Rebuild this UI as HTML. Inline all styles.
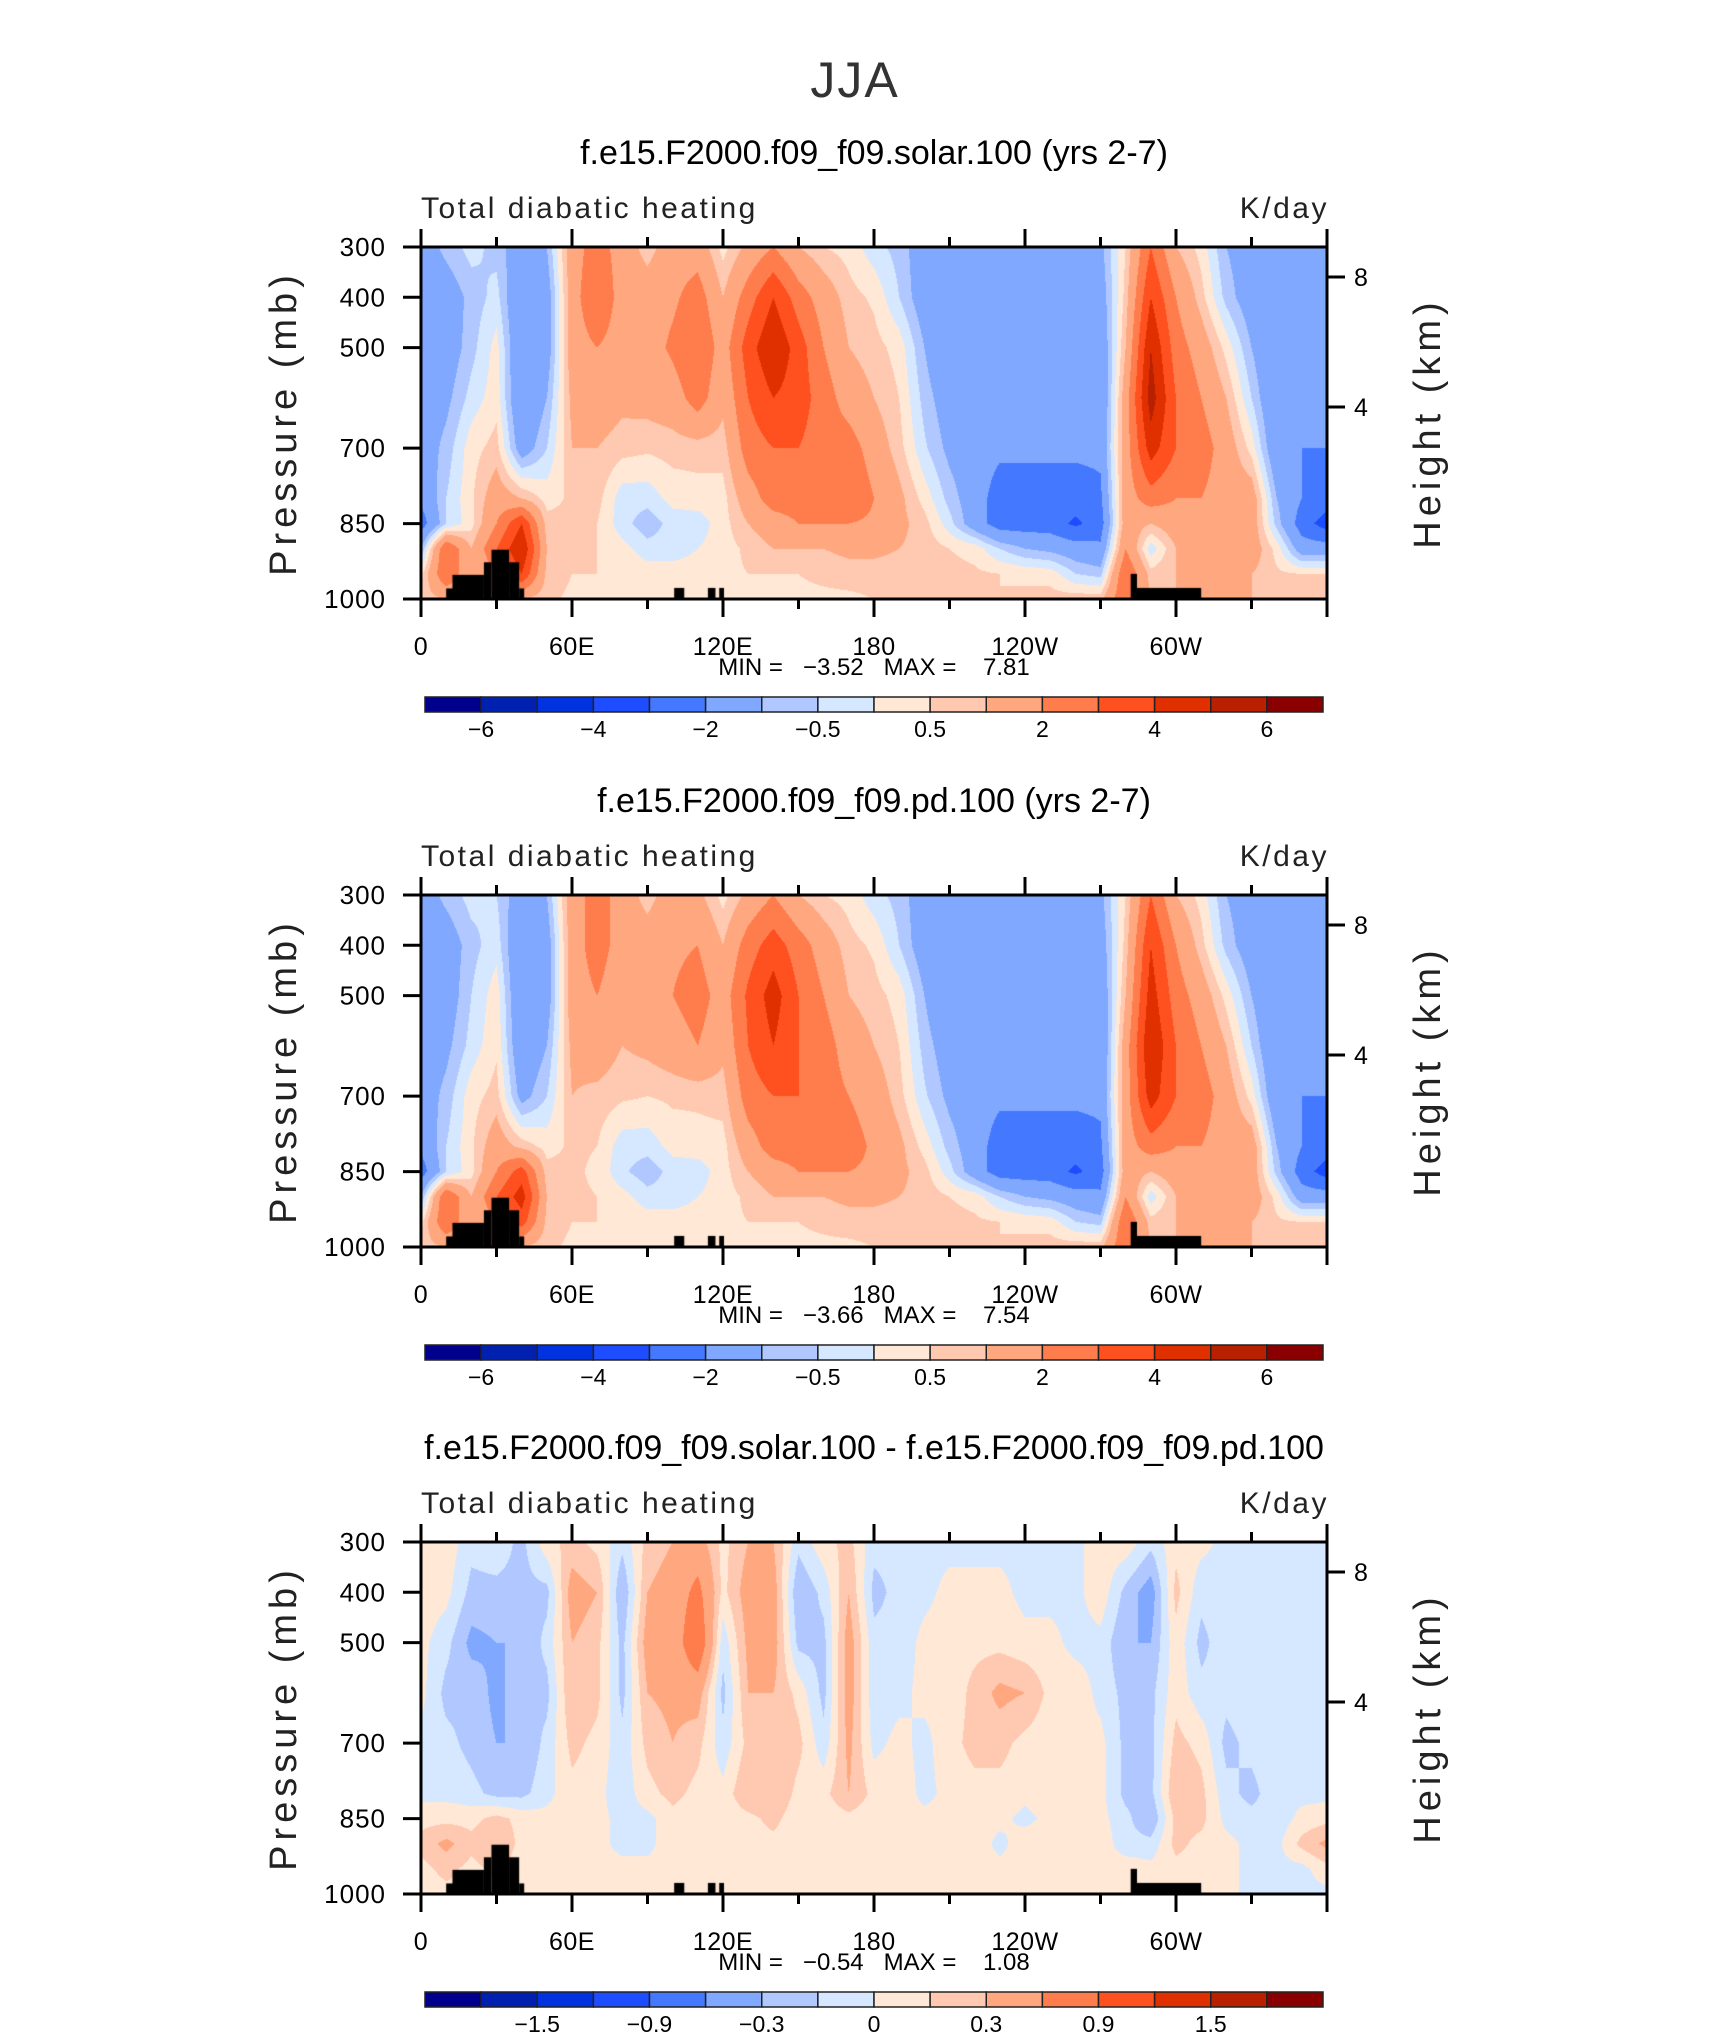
<!DOCTYPE html>
<html><head><meta charset="utf-8">
<style>
html,body{margin:0;padding:0;background:#fff;}
#root{position:relative;width:1710px;height:2038px;overflow:hidden;background:#fff;font-family:"Liberation Sans",sans-serif;}
canvas{position:absolute;}
svg{position:absolute;left:0;top:0;}
</style></head>
<body>
<div id="root">
<canvas id="c0" width="906" height="352" style="left:421px;top:247px"></canvas>
<canvas id="c1" width="906" height="352" style="left:421px;top:895px"></canvas>
<canvas id="c2" width="906" height="352" style="left:421px;top:1542px"></canvas>
<svg id="ov" width="1710" height="2038"></svg>
</div>
<script>
const lons=[0,10,20,30,40,50,60,70,80,90,100,110,120,130,140,150,160,170,180,190,200,210,220,230,240,250,260,270,280,290,300,310,320,330,340,350,360];
const pressures=[300,400,500,600,700,800,850,900,950,1000];
const solarField=[
[-1.5,-1.5,-1.5,-1.5,-1.5,-1.8,-2.5,-1,0.3,0.7],
[-0.8,-1.5,-1.5,-1.2,-0.8,-0.5,-0.5,3,3,1],
[-0.3,-0.8,-0.7,-0.3,0.3,0.4,0.3,1,1,0.8],
[-0.7,-0.3,0.2,0.3,0.7,1.5,2,3,2,1],
[-1.5,-2,-2,-2,-1.5,1,4,5,4,1],
[-1,-1.5,-1.5,-1,-0.5,0.3,0.7,1,0.8,0.6],
[1.5,1.5,1.5,1.2,1,0.6,0.6,0.6,0.5,0.4],
[2.5,3,2,1.5,1,0.7,0.5,0.5,0.5,0.4],
[1.5,1.5,1.5,1.2,0.7,-0.3,-0.3,0.2,0.4,0.4],
[0.7,1.5,1.5,1.3,0.6,-0.3,-0.8,-0.3,0.3,0.4],
[1.5,1.8,2.2,1.5,0.7,0.2,-0.3,-0.3,0.3,0.4],
[1.5,2.5,3,2.5,0.7,0.3,-0.3,0,0.3,0.4],
[0.3,1,1.5,1.2,0.7,0.3,0.3,0.3,0.4,0.4],
[1.2,2.5,3.5,3,2.5,1.5,1,0.6,0.5,0.4],
[2,4,5,4,3,2.5,1.5,1,0.5,0.4],
[1,2.5,3.5,3.5,3,2.5,2,1,0.5,0.4],
[0.5,1.5,2,2.5,2.5,2.5,2,1,0.6,0.4],
[0.3,0.7,1,1.5,2.5,3,2,1.2,0.7,0.4],
[-0.3,0.4,0.7,1,1.5,2,1.8,1.2,0.7,0.5],
[-0.7,-0.5,0.3,0.5,0.7,1.2,1.2,1,0.7,0.5],
[-1.5,-1.5,-1,-0.7,-0.4,0.3,0.7,0.8,0.7,0.5],
[-1.5,-2,-2,-1.5,-1.2,-0.7,-0.3,0.5,0.7,0.5],
[-1.2,-2,-2,-2,-1.5,-1.5,-1.5,0.3,0.6,0.5],
[-1.5,-2,-2,-2,-1.8,-2.5,-2.5,-0.5,0.5,0.5],
[-1.5,-2,-2,-2,-1.8,-2.5,-2.5,-1,0.4,0.6],
[-1.5,-1.5,-2,-2,-1.8,-2.5,-2.5,-1.2,0.3,0.7],
[-1.2,-1.5,-1.8,-2,-1.8,-2.5,-3.2,-1.5,-0.5,0.8],
[-1.2,-1.5,-1.8,-2,-1.8,-2.2,-2.5,-1.8,-0.7,0.8],
[0.5,0.7,1,1.5,1.5,1.5,1.5,2,3,3],
[3,4,5,5.5,4.5,2.5,1,-0.3,0.7,1],
[1,2,2.5,3,3,2,1.5,1,1,1],
[0.3,0.7,1.5,2,2.5,2,1.7,1.5,1,1],
[-1,-0.7,0.3,1,1.5,1.5,1.5,1.5,1,1],
[-1.5,-1.5,-1,-0.5,0.3,1.5,1.5,1.5,1,1],
[-1.5,-2,-2,-2,-1.8,-1,-0.7,0.3,0.6,0.8],
[-1.5,-2,-2,-2,-2,-2,-2.5,-1.5,0.5,0.8],
[-1.5,-2,-2,-2,-2,-2.5,-3.5,-1.5,0.5,0.8]];
const pdField=[
[-1.5,-1.5,-1.5,-1.5,-1.5,-1.8,-2.5,-1,0.3,0.7],
[-0.8,-1.5,-1.5,-1.2,-0.8,-0.5,-0.5,3,3,1],
[-0.3,-0.7,-0.5,-0.3,0.3,0.4,0.3,1,1,0.8],
[-0.5,-0.2,0.3,0.4,0.7,1.5,2,3,2,1],
[-1.5,-2,-2,-1.8,-1.3,0.8,3.5,4.5,3.5,1],
[-1,-1.5,-1.5,-1,-0.5,0.3,0.7,1,0.8,0.6],
[1.5,1.5,1.5,1.2,1,0.6,0.6,0.6,0.5,0.4],
[2.5,2.5,2,1.5,0.8,0.5,0.4,0.5,0.5,0.4],
[1.5,1.5,1.3,1,0.6,-0.3,-0.4,0.2,0.4,0.4],
[0.7,1.5,1.5,1.2,0.5,-0.3,-0.8,-0.3,0.3,0.4],
[1.5,1.8,2,1.5,0.6,0.2,-0.3,-0.3,0.3,0.4],
[1.2,2,2.5,2,0.6,0.3,-0.3,0,0.3,0.4],
[0.3,1,1.5,1.2,0.7,0.3,0.3,0.3,0.4,0.4],
[1.2,2.5,3.2,3,2.5,1.5,1,0.6,0.5,0.4],
[2,3.5,4.5,4,3,2.5,1.5,1,0.5,0.4],
[1,2.5,3,3,3,2.5,2,1,0.5,0.4],
[0.5,1.5,2,2.5,2.5,2.5,2,1,0.6,0.4],
[0.3,0.7,1,1.5,2,2.5,2,1.2,0.7,0.4],
[-0.3,0.4,0.7,1,1.5,1.8,1.8,1.2,0.7,0.5],
[-0.7,-0.5,0.3,0.5,0.7,1.2,1.2,1,0.7,0.5],
[-1.5,-1.5,-1,-0.7,-0.4,0.3,0.7,0.8,0.7,0.5],
[-1.5,-2,-2,-1.5,-1.2,-0.7,-0.3,0.5,0.7,0.5],
[-1.2,-2,-2,-2,-1.5,-1.5,-1.5,0.3,0.6,0.5],
[-1.5,-2,-2,-2,-1.8,-2.5,-2.5,-0.5,0.5,0.5],
[-1.5,-2,-2,-2,-1.8,-2.5,-2.5,-1,0.4,0.6],
[-1.5,-1.5,-2,-2,-1.8,-2.5,-2.5,-1.2,0.3,0.7],
[-1.2,-1.5,-1.8,-2,-1.8,-2.5,-3.2,-1.5,-0.5,0.8],
[-1.2,-1.5,-1.8,-2,-1.8,-2.2,-2.5,-1.8,-0.7,0.8],
[0.5,0.7,1,1.5,1.5,1.5,1.5,2,3,3],
[3,4,4.5,5,4.5,2.5,1,-0.3,0.7,1],
[1,2,2.5,3,3,2,1.5,1,1,1],
[0.3,0.7,1.5,2,2.5,2,1.7,1.5,1,1],
[-1,-0.7,0.3,1,1.5,1.5,1.5,1.5,1,1],
[-1.5,-1.5,-1,-0.5,0.3,1.5,1.5,1.5,1,1],
[-1.5,-2,-2,-2,-1.8,-1,-0.7,0.3,0.6,0.8],
[-1.5,-2,-2,-2,-2,-2,-2.5,-1.5,0.5,0.8],
[-1.5,-2,-2,-2,-2,-2.5,-3.5,-1.5,0.5,0.8]];
const diffField=[
[0.1,0.1,0.05,0.05,-0.05,-0.05,0.1,0.2,0.1,0.05],
[0.1,0.05,-0.1,-0.2,-0.1,-0.05,0.1,0.35,0.2,0.1],
[-0.1,-0.2,-0.35,-0.2,-0.2,-0.1,0.1,0.2,0.1,0.1],
[-0.05,-0.2,-0.3,-0.35,-0.3,-0.2,0.2,0.3,0.2,0.1],
[-0.2,-0.2,-0.3,-0.2,-0.3,-0.2,0.1,0.1,0.05,0.05],
[0.1,-0.2,-0.1,-0.2,-0.1,-0.05,0.05,0.05,0.05,0.05],
[0.2,0.4,0.3,0.3,0.2,0.1,0.1,0.05,0.05,0.05],
[0.1,0.3,0.2,0.2,0.1,0.05,0.05,0.05,0.05,0.05],
[-0.1,-0.3,-0.2,-0.2,-0.1,-0.1,-0.05,-0.05,0.05,0.05],
[0.2,0.3,0.4,0.3,0.2,0.1,-0.05,-0.05,0.05,0.05],
[0.3,0.4,0.4,0.35,0.3,0.2,0.1,0.1,0.05,0.05],
[0.4,0.7,0.9,0.4,0.2,0.1,0.05,0.05,0.05,0.05],
[0.1,0.1,-0.1,-0.2,-0.1,0.05,0.05,0.05,0.05,0.05],
[0.3,0.4,0.35,0.3,0.2,0.3,0.1,0.1,0.05,0.05],
[0.3,0.4,0.4,0.3,0.3,0.3,0.2,0.1,0.05,0.05],
[-0.1,-0.3,-0.2,0.1,0.2,0.1,0.05,0.05,0.05,0.05],
[0.1,-0.1,-0.2,-0.2,-0.1,0.1,0.05,0.05,0.05,0.05],
[0.2,0.3,0.4,0.4,0.35,0.3,0.1,0.05,0.05,0.05],
[-0.1,-0.2,-0.1,-0.1,-0.05,0.1,0.05,0.05,0.05,0.05],
[-0.1,-0.1,-0.1,-0.05,0.05,0.1,0.05,0.05,0.05,0.05],
[-0.05,-0.05,0.05,0.05,-0.05,-0.05,0.05,0.05,0.05,0.05],
[-0.05,0.05,0.1,0.05,0.1,0.05,0.05,0.1,0.05,0.05],
[-0.05,0.05,0.1,0.2,0.2,0.1,0.05,0.1,0.05,0.05],
[-0.05,0.05,0.1,0.35,0.2,0.1,0.05,-0.05,0.05,0.05],
[-0.05,-0.05,0.05,0.3,0.1,0.05,-0.05,0.1,0.05,0.05],
[-0.05,-0.05,0.05,0.1,0.05,0.1,0.05,0.1,0.05,0.05],
[-0.05,-0.05,-0.05,0.1,0.05,0.05,0.1,0.05,0.05,0.05],
[0.1,0.1,-0.05,-0.05,0.05,0.05,0.05,0.1,0.05,0.05],
[0.1,-0.2,-0.3,-0.2,-0.2,-0.2,-0.1,-0.1,0.1,0.1],
[-0.1,-0.4,-0.3,-0.2,-0.2,-0.2,-0.3,-0.1,0.05,0.05],
[0.1,0.2,0.1,0.1,0.2,0.3,0.2,0.2,0.1,0.05],
[0.05,-0.1,-0.2,-0.1,0.1,0.2,0.2,0.1,0.05,0.05],
[-0.05,-0.05,-0.05,-0.1,-0.2,-0.1,-0.05,0.05,0.05,0.05],
[-0.05,-0.1,-0.1,-0.05,-0.1,-0.2,-0.1,-0.05,-0.05,-0.05],
[-0.05,-0.05,-0.05,-0.05,-0.05,-0.05,-0.1,-0.05,-0.05,-0.05],
[-0.05,-0.05,-0.05,-0.05,-0.05,-0.05,0.05,0.2,-0.05,-0.05],
[-0.05,-0.05,-0.05,-0.05,-0.05,-0.05,0.1,0.35,0.1,-0.05]];
const levelsMain=[-6,-5,-4,-3,-2,-1,-0.5,0,0.5,1,2,3,4,5,6];
const levelsDiff=[-1.8,-1.5,-1.2,-0.9,-0.6,-0.3,-0.15,0,0.15,0.3,0.6,0.9,1.2,1.5,1.8];
const labelsMain=["-6","-4","-2","-0.5","0.5","2","4","6"];
const labelsDiff=["-1.5","-0.9","-0.3","0","0.3","0.9","1.5"];
const palette=["#00008c","#0020b0","#0032e0","#1e4cff","#4479ff","#80a8ff","#b0c8ff","#d6e8ff","#ffe8d6","#ffc8b0","#ffa880","#ff7d4d","#ff5020","#e03000","#b82000","#8a0000"];
const topoLon0=[10,12.5,25,28,35,39,100.6,114,118.5,282,284.5];
const topoLon1=[13,25,28,35,39,41,104.6,117,120.4,284.5,310];
const topoPs=[979,952,927,902,927,979,978,978,978,950,978];
const xTickLons=[0,30,60,90,120,150,180,210,240,270,300,330,360];
const xLabelLons=[0,60,120,180,240,300];
const xLabelText=["0","60E","120E","180","120W","60W"];
const pTicks=[300,400,500,700,850,1000];
const hTicks=[8,4];
const hTickOffsets=[30,160];
const panelTitles=["f.e15.F2000.f09_f09.solar.100 (yrs 2-7)","f.e15.F2000.f09_f09.pd.100 (yrs 2-7)","f.e15.F2000.f09_f09.solar.100 - f.e15.F2000.f09_f09.pd.100"];
const minVals=["\u22123.52","\u22123.66","\u22120.54"];
const maxVals=["7.81","7.54","1.08"];

const PL=421,PW=906,PH=352,TOPS=[247,895,1542];
function xOf(lon){return lon/360*PW;}
function yOf(p){return (p-300)/700*PH;}
function lonOfX(x){return x/PW*360;}
function pOfY(y){return 300+y/PH*700;}
function hexRgb(h){return [parseInt(h.substr(1,2),16),parseInt(h.substr(3,2),16),parseInt(h.substr(5,2),16)];}
const rgbPal=palette.map(hexRgb);
function sample(field,lon,p){
  let i=Math.min(lons.length-2,Math.floor(lon/10)); let fx=(lon-lons[i])/10;
  let j=0; while(j<pressures.length-2 && p>pressures[j+1]) j++;
  let fy=(p-pressures[j])/(pressures[j+1]-pressures[j]);
  fx=Math.max(0,Math.min(1,fx)); fy=Math.max(0,Math.min(1,fy));
  const a=field[i][j],b=field[i+1][j],c=field[i][j+1],d=field[i+1][j+1];
  return (a*(1-fx)+b*fx)*(1-fy)+(c*(1-fx)+d*fx)*fy;
}
function colorIdx(v,levels){let k=0;while(k<levels.length&&v>=levels[k])k++;return k;}
function drawField(cid,field,levels){
  const cv=document.getElementById(cid),ctx=cv.getContext('2d');
  const img=ctx.createImageData(PW,PH);
  for(let y=0;y<PH;y++){const p=pOfY(y+0.5);
    for(let x=0;x<PW;x++){const v=sample(field,lonOfX(x+0.5),p);
      const c=rgbPal[colorIdx(v,levels)];const o=(y*PW+x)*4;
      img.data[o]=c[0];img.data[o+1]=c[1];img.data[o+2]=c[2];img.data[o+3]=255;}}
  ctx.putImageData(img,0,0);
  ctx.fillStyle="#000";
  for(let k=0;k<topoLon0.length;k++){
    ctx.fillRect(xOf(topoLon0[k]),yOf(topoPs[k]),xOf(topoLon1[k])-xOf(topoLon0[k]),PH-yOf(topoPs[k]));}
}
drawField('c0',solarField,levelsMain);
drawField('c1',pdField,levelsMain);
drawField('c2',diffField,levelsDiff);

const NS="http://www.w3.org/2000/svg",svg=document.getElementById('ov');
function mk(tag,attrs,parent){const e=document.createElementNS(NS,tag);for(const k in attrs)e.setAttribute(k,attrs[k]);(parent||svg).appendChild(e);return e;}
function txt(s,attrs,parent){const e=mk('text',attrs,parent);e.textContent=s;return e;}

const jja=txt("JJA",{x:855,y:97,'font-size':50,'text-anchor':'middle','font-family':'"Liberation Sans",sans-serif','font-weight':300,fill:'#333','letter-spacing':2});



const names=['solar','pd','difference'];
TOPS.forEach((T,pi)=>{
  const g=mk('g',{'font-family':'"Liberation Sans",sans-serif',fill:'#000'});
  
  
  const t=txt(panelTitles[pi],{x:874,y:T-83,'font-size':34,'text-anchor':'middle'},g);
  
  
  const l=txt("Total diabatic heating",{x:PL,y:T-29,'font-size':30,'letter-spacing':2.5,fill:'#222'},g);
  
  
  const u=txt("K/day",{x:PL+PW+2,y:T-29,'font-size':30,'text-anchor':'end','letter-spacing':2.5,fill:'#222'},g);
  
  
  const f=mk('rect',{x:PL,y:T,width:PW,height:PH,fill:'none',stroke:'#000','stroke-width':3},g);
  
  
  xTickLons.forEach((lon,k)=>{const x=PL+xOf(lon),len=(lon%60===0)?18:10;
    const a=mk('line',{x1:x,y1:T,x2:x,y2:T-len,stroke:'#000','stroke-width':3},g);
    
    
    const b=mk('line',{x1:x,y1:T+PH,x2:x,y2:T+PH+len,stroke:'#000','stroke-width':3},g);
    
    });
  xLabelLons.forEach((lon,k)=>{const e=txt(xLabelText[k],{x:PL+xOf(lon),y:T+PH+56,'font-size':25,'text-anchor':'middle','letter-spacing':0.5},g);
    
    });
  pTicks.forEach(p=>{const y=T+yOf(p);
    const a=mk('line',{x1:PL,y1:y,x2:PL-18,y2:y,stroke:'#000','stroke-width':3},g);
    
    
    const e=txt(String(p),{x:386,y:y+9,'font-size':26,'text-anchor':'end','letter-spacing':1},g);
    
    });
  hTicks.forEach((h,k)=>{const y=T+hTickOffsets[k];
    const a=mk('line',{x1:PL+PW,y1:y,x2:PL+PW+18,y2:y,stroke:'#000','stroke-width':3},g);
    
    
    const e=txt(String(h),{x:PL+PW+27,y:y+9,'font-size':25},g);
    
    });
  const yl=txt("Pressure (mb)",{x:0,y:0,'font-size':38,'text-anchor':'middle','letter-spacing':5,fill:'#222',transform:`translate(296,${T+176}) rotate(-90)`},g);
  
  
  const hl=txt("Height (km)",{x:0,y:0,'font-size':38,'text-anchor':'middle','letter-spacing':5,fill:'#222',transform:`translate(1440,${T+176}) rotate(-90)`},g);
  
  
  const mm=txt(`MIN =   ${minVals[pi]}   MAX =    ${maxVals[pi]}`,{x:874,y:T+428,'font-size':24,'text-anchor':'middle',style:'white-space:pre'},g);
  
  
  const cb=mk('g',{},g);
  
  
  const bx=425,bw=898/16,by=T+450,bh=15;
  palette.forEach((c,k)=>{const r=mk('rect',{x:bx+k*bw,y:by,width:bw,height:bh,fill:c,stroke:'#222','stroke-width':1.5},cb);
    
    });
  const labs=pi<2?labelsMain:labelsDiff, start=pi<2?1:2;
  labs.forEach((s,k)=>{const e=txt(s.replace('-','\u2212'),{x:bx+(start+2*k)*bw,y:T+490,'font-size':23,'text-anchor':'middle'},cb);
    
    });
});
</script>
</body></html>
